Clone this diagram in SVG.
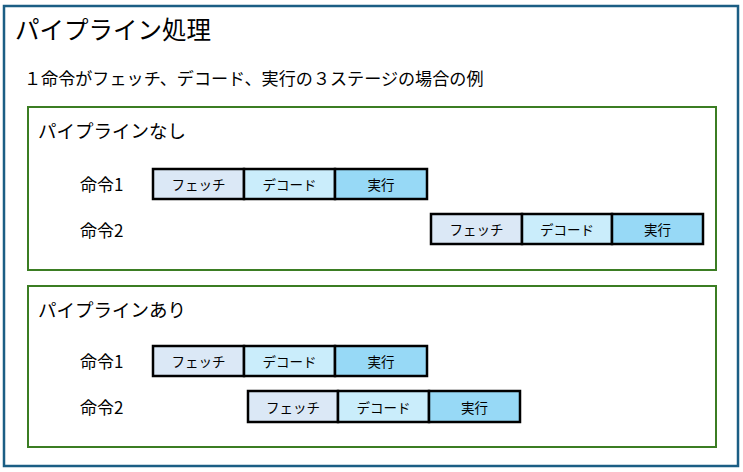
<svg xmlns="http://www.w3.org/2000/svg" width="743" height="472" viewBox="0 0 743 472">
<style>
text{font-family:"Noto Sans CJK JP","Noto Sans",sans-serif;fill:#000;dominant-baseline:central}
.outer{fill:#fff;stroke:#1b5e84;stroke-width:2.5}
.group{fill:none;stroke:#3b7d23;stroke-width:2}
.cell{stroke:#000;stroke-width:2.5}
.f{fill:#dbe8f6}
.d{fill:#caedfb}
.e{fill:#97d9f6}
.ct{font-size:13.5px;text-anchor:middle}
.lbl{font-size:17px}
.gt{font-size:18.5px}
</style>
<rect class="outer" x="4" y="6" width="734" height="460"/>
<text x="15" y="28" font-size="24.5">パイプライン処理</text>
<text x="24" y="77" font-size="17.1">１命令がフェッチ、デコード、実行の３ステージの場合の例</text>

<g id="no-pipeline">
<rect class="group" x="28" y="107" width="688" height="163"/>
<text class="gt" x="38" y="130">パイプラインなし</text>
<g id="np-i1">
<text class="lbl" x="80" y="183">命令1</text>
<rect class="cell f" x="153" y="169" width="91" height="30"/>
<rect class="cell d" x="244" y="169" width="91" height="30"/>
<rect class="cell e" x="335" y="169" width="92" height="30"/>
<text class="ct" x="198.5" y="184">フェッチ</text>
<text class="ct" x="289.5" y="184">デコード</text>
<text class="ct" x="381" y="184">実行</text>
</g>
<g id="np-i2">
<text class="lbl" x="80" y="229">命令2</text>
<rect class="cell f" x="431" y="214" width="91" height="30"/>
<rect class="cell d" x="522" y="214" width="90" height="30"/>
<rect class="cell e" x="612" y="214" width="91" height="30"/>
<text class="ct" x="476.5" y="229">フェッチ</text>
<text class="ct" x="567" y="229">デコード</text>
<text class="ct" x="657.5" y="229">実行</text>
</g>
</g>

<g id="with-pipeline">
<rect class="group" x="28" y="286" width="688" height="161"/>
<text class="gt" x="38" y="309">パイプラインあり</text>
<g id="p-i1">
<text class="lbl" x="80" y="360">命令1</text>
<rect class="cell f" x="153" y="346" width="91" height="30"/>
<rect class="cell d" x="244" y="346" width="91" height="30"/>
<rect class="cell e" x="335" y="346" width="92" height="30"/>
<text class="ct" x="198.5" y="361">フェッチ</text>
<text class="ct" x="289.5" y="361">デコード</text>
<text class="ct" x="381" y="361">実行</text>
</g>
<g id="p-i2">
<text class="lbl" x="80" y="406">命令2</text>
<rect class="cell f" x="248" y="391" width="90" height="31"/>
<rect class="cell d" x="338" y="391" width="91" height="31"/>
<rect class="cell e" x="429" y="391" width="91" height="31"/>
<text class="ct" x="293" y="406.5">フェッチ</text>
<text class="ct" x="383.5" y="406.5">デコード</text>
<text class="ct" x="474.5" y="406.5">実行</text>
</g>
</g>
</svg>
